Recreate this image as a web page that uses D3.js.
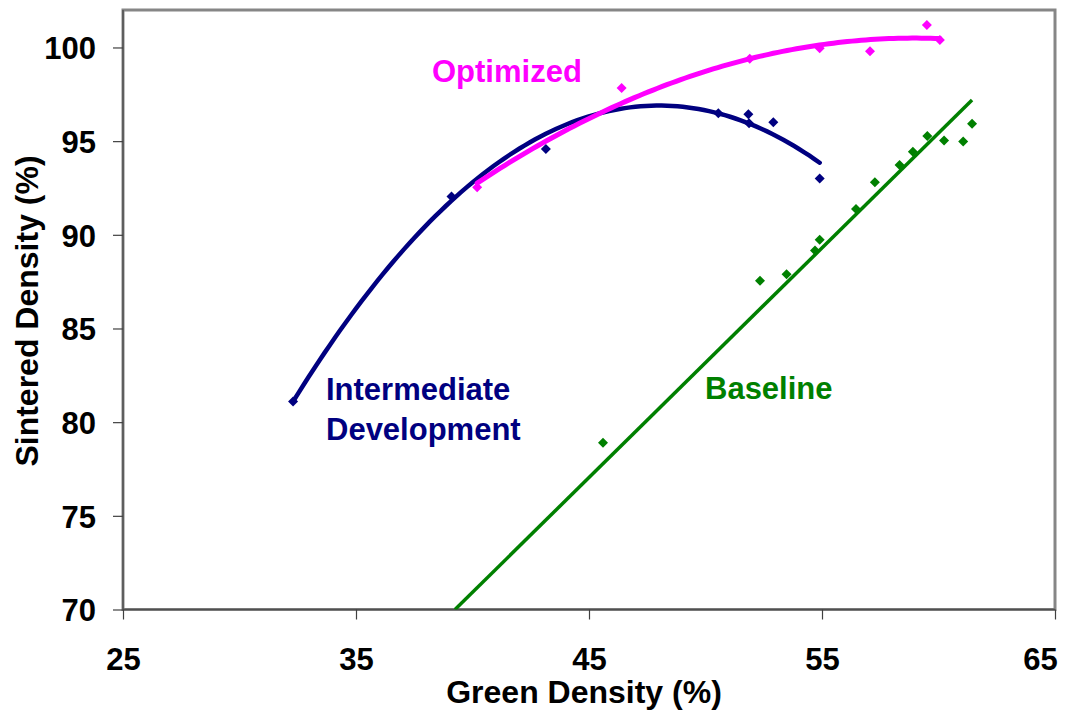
<!DOCTYPE html>
<html>
<body style="margin:0;background:#fff">
<style>
body {
  font-family: "Liberation Sans", Arial, sans-serif;
}
.axis text {
  font: bold 31px "Liberation Sans", Arial, sans-serif;
  fill: #000;
}
.axis path { display: none; }
.axis line { stroke: #404040; stroke-width: 1.2; }
</style>
<script src="https://cdnjs.cloudflare.com/ajax/libs/d3/7.8.5/d3.min.js"></script>
<script>

// green density (%) / sintered density (%)
var baselineX = [45.6, 52.34, 53.48, 54.7, 54.9, 56.46, 57.27, 58.33, 58.9, 59.52, 60.24, 61.06, 61.44];
var baselineY = [78.9, 87.55, 87.9, 89.16, 89.73, 91.38, 92.8, 93.73, 94.44, 95.28, 95.03, 94.98, 95.93];

var interX = [32.3, 39.1, 43.15, 50.55, 51.84, 51.87, 52.91, 54.9];
var interY = [81.1, 92.04, 94.58, 96.49, 96.43, 95.96, 96.01, 93.0];

var optX = [40.2, 46.4, 51.9, 54.9, 57.06, 59.5, 60.06];
var optY = [92.54, 97.83, 99.4, 99.96, 99.8, 101.2, 100.4];

// trendlines: [a, h, k] for y = a*(x-h)^2 + k, and x range
var interTrend = [-0.0641, 48.0, 96.9], interRange = [32.3, 54.9];
var optTrend = [-0.0219, 59.0, 100.5], optRange = [40.2, 60.06];
// linear: [slope, x0, y0]
var baseTrend = [1.2254, 39.25, 70], baseRange = [39.25, 61.44];

var xTicks = [25, 35, 45, 55, 65];
var yTicks = [70, 75, 80, 85, 90, 95, 100];

var width = 1077, height = 726;
var pLeft = 123, pRight = 1055, pTop = 10, pBottom = 609.5;

var svg = d3.select("body").append("svg")
    .attr("width", width)
    .attr("height", height);

var x = d3.scaleLinear().domain([25, 65]).range([pLeft, pRight]);
var y = d3.scaleLinear().domain([70, 102]).range([pBottom, pTop]);

svg.append("defs").append("clipPath").attr("id", "plot")
  .append("rect")
    .attr("x", pLeft).attr("y", pTop)
    .attr("width", pRight - pLeft).attr("height", pBottom - pTop);

// frame
svg.append("rect")
    .attr("x", pLeft).attr("y", pTop)
    .attr("width", pRight - pLeft).attr("height", pBottom - pTop)
    .attr("fill", "none")
    .attr("stroke", "#868686")
    .attr("stroke-width", 3);

svg.append("line")
    .attr("x1", pLeft).attr("x2", pLeft).attr("y1", pTop).attr("y2", pBottom)
    .attr("stroke", "#505050").attr("stroke-width", 1.5);
svg.append("line")
    .attr("x1", pLeft).attr("x2", pRight).attr("y1", pBottom).attr("y2", pBottom)
    .attr("stroke", "#505050").attr("stroke-width", 1.5);

var yAxis = svg.append("g")
    .attr("class", "axis")
    .attr("transform", "translate(" + pLeft + ",0)")
    .call(d3.axisLeft(y).tickValues(yTicks).tickSize(10).tickPadding(17));
yAxis.selectAll("text").attr("dy", "0.37em");

var xAxis = svg.append("g")
    .attr("class", "axis")
    .attr("transform", "translate(0," + pBottom + ")")
    .call(d3.axisBottom(x).tickValues(xTicks).tickSize(10).tickPadding(28));
// last label is pulled inside the picture, as in the original
xAxis.selectAll("text").filter(function(d) { return d === 65; }).attr("dx", -15);

svg.append("text")
    .attr("x", 584).attr("y", 703)
    .attr("text-anchor", "middle")
    .style("font", "bold 32px 'Liberation Sans', Arial, sans-serif")
    .text("Green Density (%)");

svg.append("text")
    .attr("transform", "translate(38,311) rotate(-90)")
    .attr("text-anchor", "middle")
    .style("font", "bold 32px 'Liberation Sans', Arial, sans-serif")
    .text("Sintered Density (%)");

var diamond = "M0,-5L5,0L0,5L-5,0Z";

function markers(xs, ys, color) {
  svg.append("g").selectAll("path")
      .data(d3.range(xs.length))
      .enter().append("path")
      .attr("d", diamond)
      .attr("transform", function(i) { return "translate(" + x(xs[i]) + "," + y(ys[i]) + ")"; })
      .attr("fill", color);
}

markers(baselineX, baselineY, "#008000");
markers(interX, interY, "#000080");
markers(optX, optY, "#ff00ff");

var line = d3.line()
    .x(function(d) { return x(d[0]); })
    .y(function(d) { return y(d[1]); });

function quad(c, r) {
  var pts = [];
  for (var i = 0; i <= 100; i++) {
    var xv = r[0] + (r[1] - r[0]) * i / 100;
    pts.push([xv, c[0] * (xv - c[1]) * (xv - c[1]) + c[2]]);
  }
  return pts;
}

svg.append("path")
    .datum(baseRange.map(function(xv) { return [xv, baseTrend[2] + baseTrend[0] * (xv - baseTrend[1])]; }))
    .attr("clip-path", "url(#plot)")
    .attr("d", line)
    .attr("fill", "none")
    .attr("stroke", "#008000")
    .attr("stroke-width", 3.5);

svg.append("path")
    .datum(quad(interTrend, interRange))
    .attr("d", line)
    .attr("fill", "none")
    .attr("stroke", "#000080")
    .attr("stroke-width", 4.5)
    .attr("stroke-linecap", "round");

svg.append("path")
    .datum(quad(optTrend, optRange))
    .attr("d", line)
    .attr("fill", "none")
    .attr("stroke", "#ff00ff")
    .attr("stroke-width", 5)
    .attr("stroke-linecap", "round");

// series labels
svg.append("text")
    .attr("x", 432).attr("y", 82)
    .attr("fill", "#ff00ff")
    .style("font", "bold 31px 'Liberation Sans', Arial, sans-serif")
    .text("Optimized");

var lab = svg.append("text")
    .attr("fill", "#000080")
    .style("font", "bold 31px 'Liberation Sans', Arial, sans-serif");
lab.append("tspan").attr("x", 326).attr("y", 400).text("Intermediate");
lab.append("tspan").attr("x", 326).attr("y", 440).text("Development");

svg.append("text")
    .attr("x", 705).attr("y", 399)
    .attr("fill", "#008000")
    .style("font", "bold 31px 'Liberation Sans', Arial, sans-serif")
    .text("Baseline");

</script>
</body>
</html>
